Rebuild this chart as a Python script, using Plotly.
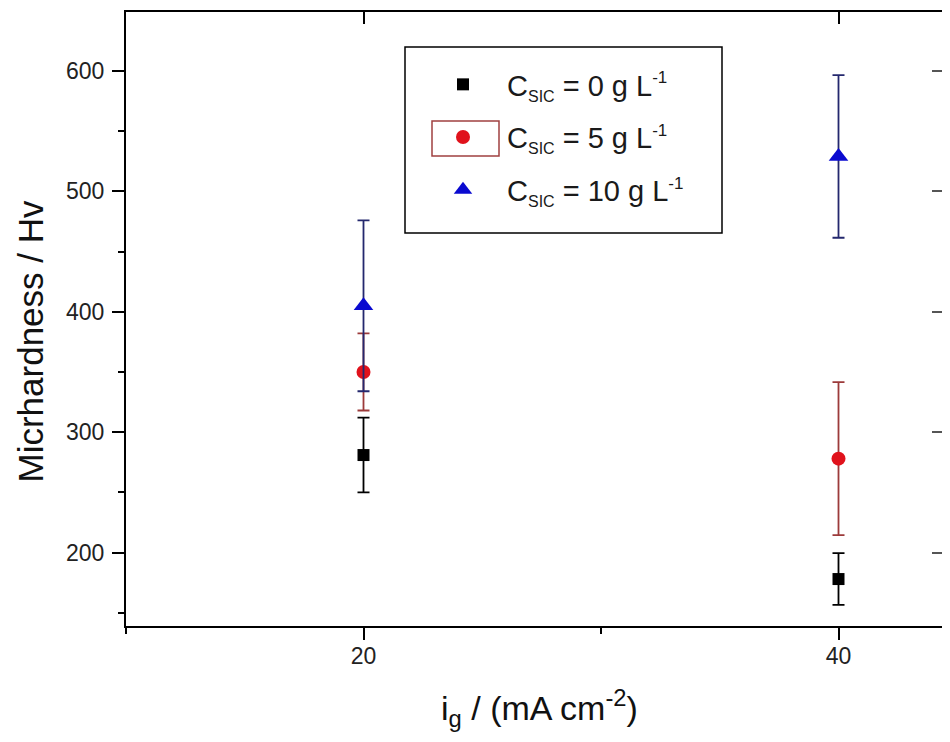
import plotly.graph_objects as go

# ---- data ----
current = [20, 40]
series_names = [
    'C<sub><span style="font-size:16px">SIC</span></sub> = 0 g L<sup><span style="font-size:17px">-1</span></sup>',
    'C<sub><span style="font-size:16px">SIC</span></sub> = 5 g L<sup><span style="font-size:17px">-1</span></sup>',
    'C<sub><span style="font-size:16px">SIC</span></sub> = 10 g L<sup><span style="font-size:17px">-1</span></sup>',
]
hv_0 = [281, 178]
err_0 = [31, 21.5]
hv_5 = [350, 278]
err_5 = [32, 63.5]
hv_10 = [405, 529]
err_10 = [71, 67.5]

x_ticks = [20, 40]
y_ticks = [200, 300, 400, 500, 600]
y_range = [139, 649]

# page body adds an 8px offset; keep the figure inside the window
OFF = 8
W, H = 934, 726
L, R, T, B = 126 - OFF, 0, 12 - OFF, H - (626 - OFF)
pw, ph = W - L - R, H - T - B
x_range = [10, 10 + pw / 23.75]

FONT = "Liberation Sans, Arial, sans-serif"


def px(sx):  # screen x -> paper x
    return (sx - OFF - L) / pw


def py(sy):  # screen y -> paper y
    return (H - B - (sy - OFF)) / ph


fig = go.Figure()

styles = [
    dict(symbol="square", size=12, color="#000000", ecolor="#000000"),
    dict(symbol="circle", size=14, color="#e0121c", ecolor="#9c3a3a"),
    dict(symbol="triangle-up", size=17, color="#0a0ad0", ecolor="#24286e"),
]
vals = [(hv_0, err_0), (hv_5, err_5), (hv_10, err_10)]

for i, (name, (v, e), st) in enumerate(zip(series_names, vals, styles)):
    fig.add_trace(go.Scatter(
        x=current, y=v, mode="markers", name=name, legendgroup=f"g{i}",
        marker=dict(symbol=st["symbol"], size=st["size"], color=st["color"],
                    line=dict(width=0)),
        error_y=dict(type="data", array=e, visible=True, color=st["ecolor"],
                     thickness=1.8, width=6),
    ))

# helper trace for top and right axes
fig.add_trace(go.Scatter(x=[], y=[], xaxis="x2", yaxis="y2", showlegend=False))

axis_common = dict(showgrid=False, zeroline=False, linecolor="black", linewidth=2,
                   tickcolor="black", tickwidth=2)

fig.update_layout(
    width=W, height=H,
    margin=dict(l=L, r=R, t=T, b=B),
    paper_bgcolor="white", plot_bgcolor="white",
    font=dict(family=FONT, color="#222222"),
    xaxis=dict(range=x_range, tickvals=x_ticks, ticks="outside", ticklen=12,
               showline=True, tickfont=dict(size=23, color="#222222"),
               ticklabelstandoff=-4,
               minor=dict(dtick=10, tick0=0, ticks="outside", ticklen=6,
                          tickcolor="black", tickwidth=2),
               **axis_common),
    yaxis=dict(range=y_range, tickvals=y_ticks, ticks="outside", ticklen=12,
               showline=True, tickfont=dict(size=23, color="#222222"),
               ticklabelstandoff=3,
               minor=dict(dtick=50, tick0=0, ticks="outside", ticklen=6,
                          tickcolor="black", tickwidth=2),
               **axis_common),
    xaxis2=dict(range=x_range, overlaying="x", side="top", anchor="y",
                tickvals=x_ticks, ticks="inside", ticklen=12, showticklabels=False,
                showline=True, **axis_common),
    yaxis2=dict(range=y_range, overlaying="y", side="right", anchor="x",
                tickvals=y_ticks, ticks="inside", ticklen=10, showticklabels=False,
                showgrid=False, zeroline=False, showline=False,
                tickcolor="#555555", tickwidth=2),
    legend=dict(x=px(419), y=py(59), xanchor="left", yanchor="top",
                bgcolor="rgba(0,0,0,0)", borderwidth=0,
                font=dict(size=29, family=FONT, color="#1a1a1a"),
                tracegroupgap=12, itemwidth=78, indentation=0),
    showlegend=True,
)

# legend frame
fig.add_shape(type="rect", xref="paper", yref="paper",
              x0=px(405), x1=px(722), y0=py(233), y1=py(47),
              line=dict(color="black", width=1.5), fillcolor="white", layer="above")

# selection rectangle around the second legend symbol (as in original)
fig.add_shape(type="rect", xref="paper", yref="paper",
              x0=px(432), x1=px(499), y0=py(156), y1=py(121),
              line=dict(color="#a04040", width=1.5), fillcolor="rgba(0,0,0,0)",
              layer="above")

# axis titles as annotations
fig.add_annotation(text="Micrhardness / Hv", xref="paper", yref="paper",
                   x=px(29.5), y=py(341), textangle=-90,
                   showarrow=False, xanchor="center", yanchor="middle",
                   font=dict(size=35, family=FONT, color="#111111"))
fig.add_annotation(text="i<sub>g</sub> / (mA cm<sup>-2</sup>)", xref="paper", yref="paper",
                   x=px(539), y=py(708),
                   showarrow=False, xanchor="center", yanchor="middle",
                   font=dict(size=34, family=FONT, color="#111111"))

fig.write_html("out.html")
